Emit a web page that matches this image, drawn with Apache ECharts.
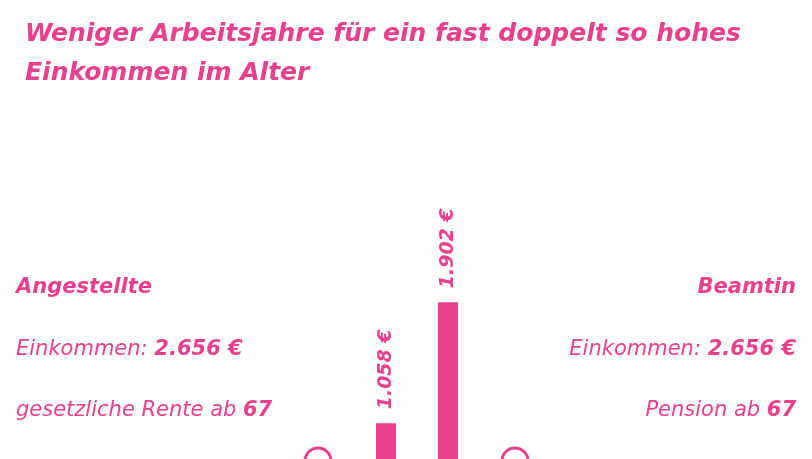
<!DOCTYPE html>
<html><head><meta charset="utf-8">
<script src="https://cdn.jsdelivr.net/npm/echarts@6/dist/echarts.min.js"></script>
<style>html,body{margin:0;padding:0;background:#fff;overflow:hidden;width:812px;height:459px}#c{width:812px;height:575px}</style>
</head><body><div id="c"></div>
<script>
const categories = ['Angestellte', 'Beamtin'];
const values = [1058, 1902];
const valueLabels = ['1.058 €', '1.902 €'];
const pink = '#e8408c';
const F = '"DejaVu Sans", sans-serif';
const chart = echarts.init(document.getElementById('c'));
const txt = (x, y, parts, align) => ({
  type: 'text', left: align === 'left' ? x : undefined, right: align === 'right' ? x : undefined, top: y,
  style: { rich: { n: { fontSize: 21, fontStyle: 'italic', fontFamily: F, fill: pink },
                   b: { fontSize: 21, fontStyle: 'italic', fontWeight: 'bold', fontFamily: F, fill: pink } },
           text: parts }
});
chart.setOption({
  animation: false,
  title: { text: 'Weniger Arbeitsjahre für ein fast doppelt so hohes\nEinkommen im Alter', left: 20, top: 10,
    textStyle: { color: pink, fontSize: 25, fontWeight: 'bold', fontStyle: 'italic', fontFamily: F, lineHeight: 39 } },
  grid: { left: 355, right: 333, top: 0, bottom: 0 },
  xAxis: { type: 'category', data: categories, show: false },
  yAxis: { type: 'value', min: 0, max: 4010, show: false },
  series: [{ type: 'bar', data: values, barWidth: 20, itemStyle: { color: pink },
    label: { show: true, position: 'top', rotate: 90, align: 'left', verticalAlign: 'middle', distance: 14,
      formatter: p => valueLabels[p.dataIndex], color: pink, fontSize: 19, fontWeight: 'bold', fontStyle: 'italic', fontFamily: F } }],
  graphic: [
    txt(16, 277, '{b|Angestellte}', 'left'),
    txt(16, 339, '{n|Einkommen: }{b|2.656 €}', 'left'),
    txt(16, 400, '{n|gesetzliche Rente ab }{b|67}', 'left'),
    txt(16, 277, '{b|Beamtin}', 'right'),
    txt(16, 339, '{n|Einkommen: }{b|2.656 €}', 'right'),
    txt(16, 400, '{n|Pension ab }{b|67}', 'right'),
    { type: 'circle', shape: { cx: 318, cy: 461, r: 13 }, style: { fill: 'none', stroke: pink, lineWidth: 3 } },
    { type: 'circle', shape: { cx: 515, cy: 461, r: 13 }, style: { fill: 'none', stroke: pink, lineWidth: 3 } }
  ]
});
</script></body></html>
